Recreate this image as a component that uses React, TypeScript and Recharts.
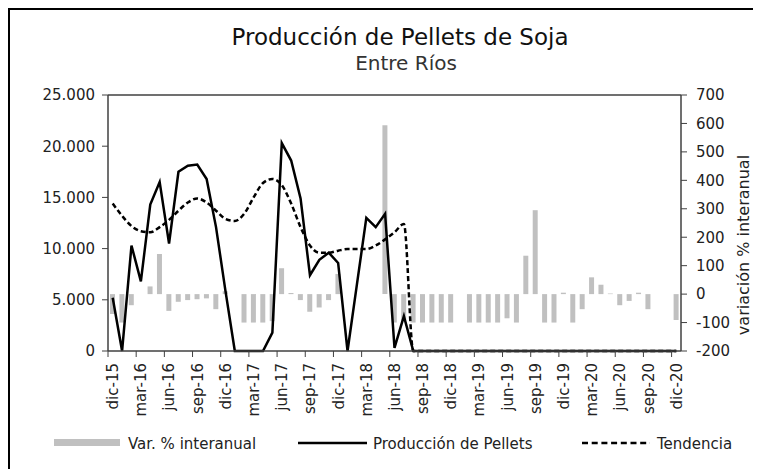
import { ComposedChart, Bar, Line, XAxis, YAxis, ReferenceLine, Legend } from 'recharts';

const FONT = '"DejaVu Sans", sans-serif';
const AXIS = '#404040';

// dic-15 .. dic-20, mensual
const MESES = ['ene', 'feb', 'mar', 'abr', 'may', 'jun', 'jul', 'ago', 'sep', 'oct', 'nov', 'dic'];
const meses = Array.from({ length: 61 }, (_, i) => {
  const m = (11 + i) % 12;
  const y = 15 + Math.floor((11 + i) / 12);
  return `${MESES[m]}-${y}`;
});

// toneladas
const produccion = [
  5200, 0, 10300, 6800, 14300, 16500, 10500, 17500, 18100, 18200, 16800, 12100,
  5900, 0, 0, 0, 0, 1800, 20300, 18600, 14900, 7400, 8900, 9600,
  8600, 0, 6500, 13000, 12100, 13400, 300, 3400, 0, 0, 0, 0,
  0, 0, 0, 0, 0, 0, 0, 0, 0, 0, 0, 0,
  0, 0, 0, 0, 0, 0, 0, 0, 0, 0, 0, 0,
  0,
];

const tendencia = [
  14400, 13200, 12200, 11700, 11600, 12100, 12800, 13700, 14500, 14900, 14500, 13700,
  12900, 12700, 13400, 15000, 16400, 16800, 16200, 14400, 12100, 10300, 9600, 9600,
  9800, 9950, 9950, 9950, 10300, 10900, 11600, 12400, 0, 0, 0, 0,
  0, 0, 0, 0, 0, 0, 0, 0, 0, 0, 0, 0,
  0, 0, 0, 0, 0, 0, 0, 0, 0, 0, 0, 0,
  0,
];

// variación % interanual
const variacion = [
  -70, -100, -39, null, 27, 141, -59, -27, -21, -18, -15, -53,
  10, null, -100, -100, -100, -95, 91, 4, -21, -62, -47, -21,
  71, null, null, null, null, 594, -100, -95, -100, -100, -100, -100,
  -100, null, -100, -100, -100, -100, -85, -100, 135, 295, -100, -100,
  5, -100, -53, 59, 33, 2, -39, -24, 5, -53, null, null,
  -91,
];

const leftTicks = [0, 5000, 10000, 15000, 20000, 25000];
const rightTicks = [-200, -100, 0, 100, 200, 300, 400, 500, 600, 700];

const data = meses.map((mes, i) => ({
  mes,
  produccion: produccion[i],
  tendencia: tendencia[i],
  variacion: variacion[i],
}));

const PLOT_W = 573;
const HALF_BAND = PLOT_W / meses.length / 2;

const miles = (v: number) => String(v).replace(/\B(?=(\d{3})+(?!\d))/g, '.');

const MonthTick = ({ x, y, payload }: any) => (
  <g>
    <line x1={x - HALF_BAND} y1={y} x2={x - HALF_BAND} y2={y + 6} stroke={AXIS} strokeWidth={1} />
    <text
      x={x}
      y={y + 12}
      dy="0.36em"
      transform={`rotate(-90, ${x}, ${y + 12})`}
      textAnchor="end"
      fontFamily={FONT}
      fontSize={15}
      fill="#222"
    >
      {payload.value}
    </text>
  </g>
);

const LegendContent = () => (
  <svg width={761} height={30} style={{ display: 'block' }}>
    <rect x={54} y={11} width={66} height={7} fill="#c0c0c0" />
    <text x={128} y={20.5} fontFamily={FONT} fontSize={15} fill="#222">Var. % interanual</text>
    <line x1={298} y1={15} x2={367} y2={15} stroke="#000" strokeWidth={2.5} />
    <text x={373} y={20.5} fontFamily={FONT} fontSize={15} fill="#222">Producción de Pellets</text>
    <line x1={582} y1={15} x2={650} y2={15} stroke="#000" strokeWidth={2.5} strokeDasharray="6 3.7" />
    <text x={657} y={20.5} fontFamily={FONT} fontSize={15} fill="#222">Tendencia</text>
  </svg>
);

export default function App() {
  return (
    <div style={{ position: 'relative', width: 761, height: 469, marginLeft: -8, marginTop: -8, background: '#fff', overflow: 'hidden' }}>
      <div
        style={{
          position: 'absolute',
          left: 7,
          top: 7,
          width: 744,
          height: 480,
          border: '3px solid #000',
          zIndex: 2,
          pointerEvents: 'none',
        }}
      />
      <ComposedChart
        width={761}
        height={469}
        data={data}
        margin={{ top: 95, right: 0, left: 0, bottom: 18 }}
        barSize={5}
      >
        <XAxis
          dataKey="mes"
          interval={2}
          height={70}
          tick={<MonthTick />}
          tickLine={false}
          tickSize={0}
          tickMargin={0}
          axisLine={{ stroke: AXIS, strokeWidth: 1.5 }}
        />
        <YAxis
          yAxisId="left"
          width={108}
          domain={[0, 25000]}
          ticks={leftTicks}
          tickFormatter={miles}
          tickSize={6}
          tickMargin={7}
          tickLine={{ stroke: AXIS }}
          axisLine={{ stroke: AXIS, strokeWidth: 1.5 }}
          tick={{ fontFamily: FONT, fontSize: 15, fill: '#222' }}
        />
        <YAxis
          yAxisId="right"
          orientation="right"
          width={80}
          domain={[-200, 700]}
          ticks={rightTicks}
          tickSize={6}
          tickMargin={9}
          tickLine={{ stroke: AXIS }}
          axisLine={{ stroke: AXIS, strokeWidth: 1.5 }}
          tick={{ fontFamily: FONT, fontSize: 15, fill: '#222', textAnchor: 'start' }}
          label={{
            value: 'variación % interanual',
            angle: -90,
            position: 'center',
            dx: 22,
            dy: 22,
            style: { fontFamily: FONT, fontSize: 16, fill: '#222' },
          }}
        />
        <ReferenceLine yAxisId="left" y={25000} stroke={AXIS} strokeWidth={1.5} />
        <Legend verticalAlign="bottom" content={<LegendContent />} wrapperStyle={{ top: 428, left: 0 }} />
        <Bar yAxisId="right" dataKey="variacion" fill="#c0c0c0" isAnimationActive={false} />
        <Line
          yAxisId="left"
          type="monotone"
          dataKey="tendencia"
          stroke="#000"
          strokeWidth={2.5}
          strokeDasharray="5 3"
          dot={false}
          activeDot={false}
          isAnimationActive={false}
        />
        <Line
          yAxisId="left"
          type="linear"
          dataKey="produccion"
          stroke="#000"
          strokeWidth={2.5}
          dot={false}
          activeDot={false}
          isAnimationActive={false}
        />
      </ComposedChart>
      <svg
        width={761}
        height={90}
        style={{ position: 'absolute', left: 0, top: 0, pointerEvents: 'none' }}
      >
        <text x={400} y={45} textAnchor="middle" fontFamily={FONT} fontSize={23} fill="#111">
          Producción de Pellets de Soja
        </text>
        <text x={406} y={70} textAnchor="middle" fontFamily={FONT} fontSize={20} fill="#333">
          Entre Ríos
        </text>
      </svg>
    </div>
  );
}
